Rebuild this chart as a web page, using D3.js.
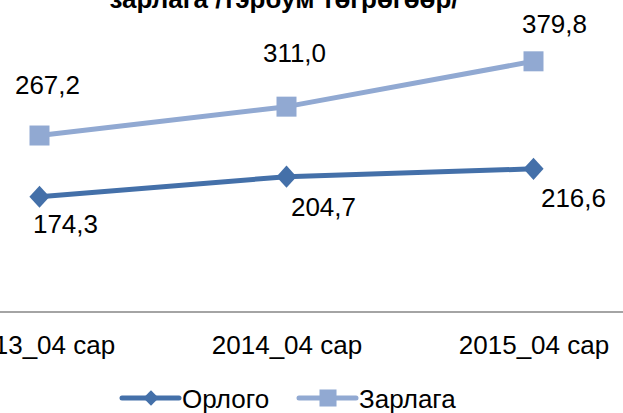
<!DOCTYPE html>
<html>
<head>
<meta charset="utf-8">
<script src="https://cdn.jsdelivr.net/npm/d3@7"></script>
<style>
  body { margin: 0; background: #fff; }
  text { font-family: "Liberation Sans", Arial, sans-serif; }
</style>
</head>
<body>
<div id="chart"></div>
<script>
const categories = ["2013_04 сар", "2014_04 сар", "2015_04 сар"];
const orlogo = [174.3, 204.7, 216.6];
const zarlaga = [267.2, 311.0, 379.8];
const seriesNames = ["Орлого", "Зарлага"];
const titleText = "зарлага /тэрбум төгрөгөөр/";

// label nudges (dx, dy) from each point, as placed in the original
const zarlagaLabelShift = [[8, -42], [8, -45], [21, -28]];
const orlogoLabelShift = [[26, 36], [37, 39], [40, 38]];

const width = 623, height = 413;
const dark = "#4470a9", light = "#91a9d2";

const svg = d3.select("#chart")
    .append("svg")
    .attr("width", width)
    .attr("height", height);

const x = d3.scalePoint().domain(categories).range([-84, 657]).padding(0.5);
const y = d3.scaleLinear().domain([0, 400]).range([311.6, 48]);

svg.append("text")
    .attr("x", 284)
    .attr("y", 8)
    .attr("text-anchor", "middle")
    .attr("font-size", 26)
    .attr("font-weight", "bold")
    .text(titleText);

const xAxis = svg.append("g")
    .attr("transform", "translate(0," + y(0) + ")")
    .call(d3.axisBottom(x).tickSize(0).tickPadding(23.5));
xAxis.select(".domain").attr("stroke", "#868686").attr("stroke-width", 1.5);
xAxis.selectAll("text")
    .attr("font-size", 26)
    .attr("font-family", "Liberation Sans, Arial, sans-serif")
    .attr("fill", "#000");

const line = d3.line()
    .x((d, i) => x(categories[i]))
    .y(d => y(d));

function drawSeries(values, color, marker, shifts) {
    svg.append("path")
        .datum(values)
        .attr("d", line)
        .attr("fill", "none")
        .attr("stroke", color)
        .attr("stroke-width", 5)
        .attr("stroke-linejoin", "round");

    const sym = marker === "diamond"
        ? d3.symbol().type(d3.symbolDiamond2).size(260)
        : d3.symbol().type(d3.symbolSquare).size(400);

    svg.selectAll(null)
        .data(values)
        .enter()
        .append("path")
        .attr("d", sym)
        .attr("transform", (d, i) => marker === "diamond"
            ? "translate(" + x(categories[i]) + "," + y(d) + ") scale(1,1.1)"
            : "translate(" + x(categories[i]) + "," + y(d) + ")")
        .attr("fill", color);

    svg.selectAll(null)
        .data(values)
        .enter()
        .append("text")
        .attr("x", (d, i) => x(categories[i]) + shifts[i][0])
        .attr("y", (d, i) => y(d) + shifts[i][1])
        .attr("text-anchor", "middle")
        .attr("font-size", 26)
        .text(d => d.toFixed(1).replace(".", ","));
}

drawSeries(zarlaga, light, "square", zarlagaLabelShift);
drawSeries(orlogo, dark, "diamond", orlogoLabelShift);

// legend
const legendItems = [
    { name: seriesNames[0], color: dark, marker: "diamond", x0: 122 },
    { name: seriesNames[1], color: light, marker: "square", x0: 299 }
];
const ly = 398;
const lg = svg.append("g");
legendItems.forEach(it => {
    lg.append("line")
        .attr("x1", it.x0).attr("x2", it.x0 + 57)
        .attr("y1", ly).attr("y2", ly)
        .attr("stroke", it.color)
        .attr("stroke-width", 5)
        .attr("stroke-linecap", "round");
    const sym = it.marker === "diamond"
        ? d3.symbol().type(d3.symbolDiamond2).size(150)
        : d3.symbol().type(d3.symbolSquare).size(290);
    lg.append("path")
        .attr("d", sym)
        .attr("transform", "translate(" + (it.x0 + 29) + "," + ly + ")")
        .attr("fill", it.color);
    lg.append("text")
        .attr("x", it.x0 + 60)
        .attr("y", ly + 10)
        .attr("font-size", 26)
        .text(it.name);
});
</script>
</body>
</html>
